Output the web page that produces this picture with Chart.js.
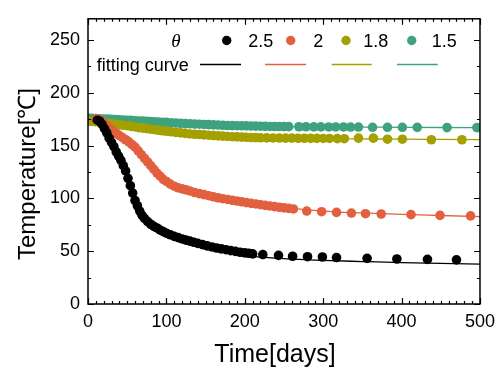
<!DOCTYPE html>
<html>
<head>
<meta charset="utf-8">
<script src="https://cdn.jsdelivr.net/npm/chart.js@4.4.1/dist/chart.umd.min.js"></script>
<style>
  html, body { margin: 0; padding: 0; background: #fff; }
</style>
</head>
<body>
<canvas id="myChart" width="502" height="369"></canvas>
<script>
// ---- data ----
const xTicks = [0, 100, 200, 300, 400, 500];
const yTicks = [0, 50, 100, 150, 200, 250];
const thetaLabels = ['2.5', '2', '1.8', '1.5'];
const colors = ['#000000', '#E2603F', '#A3A000', '#3FA27F'];

// theta = 2.5
const x25 = [12,15,18,21,24,27,30,33,36,39,42,45,48,51,54,57,60,63,66,69,72,76,80,84,88,92,96,100,105,110,115,120,125,130,135,140,146,152,158,164,170,176,182,188,194,200,205,
             210,223,243,261,280,299,317,356,394,433,470];
const y25 = [174,173,170,166,162,157,153,149,144,140,136,131,126,119,112,105,98,93,88,84,81,78,75.5,73.5,72,70,68.5,67,65.5,64,62.8,61.6,60.5,59.5,58.4,57.4,56.2,55,54,53,52.2,51.4,50.5,49.8,49,48.4,48,
             47.5,46.8,46,45.2,44.8,44.5,44,43.2,42.6,42.2,41.8];

// theta = 2
const x20 = [10,13,16,19,22,25,28,31,34,37,40,44,48,52,56,60,64,68,72,76,80,84,88,92,96,100,105,110,115,120,125,130,136,142,148,154,160,166,172,178,184,190,196,202,208,214,220,226,232,238,244,250,256,262,
             279,298,317,336,354,374,412,449,488];
const y20 = [175,175,174,172,170,168,166,164,162.5,161,159.5,157.5,155.5,153.5,151,148.5,145,141.5,138,134.5,131,127.5,124,121,118,116,113.5,111.5,110,109,108,107,105.5,104.5,103.5,102.5,101.5,100.5,99.7,99,98.2,97.5,96.8,96,95.3,94.7,94,93.4,92.8,92.2,91.6,91,90.5,90,
             88,87.4,86.7,86.1,85.5,85.2,84.6,83.9,83.4];

// theta = 1.8
const x18 = [0,5,10,15,20,25,30,35,40,45,50,55,60,65,70,75,80,85,90,95,100,106,112,118,124,130,136,142,148,154,160,166,172,178,184,190,196,202,208,214,220,228,236,244,252,260,268,276,284,292,300,308,318,327,
             345,364,382,401,438,477];
const y18 = [173,172.8,172.5,172,171.5,171,170.5,170,169.6,169.2,168.8,168.2,167.6,167,166.5,166,165.5,165,164.5,164,163.5,163,162.5,162,161.5,161,160.7,160.4,160.1,159.8,159.5,159.2,158.9,158.6,158.4,158.2,158,157.8,157.6,157.5,157.4,157.3,157.2,157.1,157,157,156.9,156.9,156.8,156.8,156.7,156.7,156.6,156.5,
             157,157,156,156,155.5,155.5];

// theta = 1.5
const x15 = [0,5,10,15,20,25,30,35,40,45,50,55,60,65,70,75,80,85,90,95,100,106,112,118,124,130,136,142,148,154,160,166,172,178,184,190,196,202,208,214,220,226,232,238,244,250,256,
             269,278,288,297,307,316,326,335,345,363,382,401,420,458,496];
const y15 = [176,175.8,175.6,175.4,175.2,175,174.8,174.6,174.4,174.2,174,173.8,173.5,173.3,173.1,172.9,172.7,172.5,172.3,172.1,171.9,171.6,171.3,171,170.8,170.6,170.4,170.2,170,169.8,169.6,169.4,169.2,169,168.9,168.8,168.7,168.6,168.5,168.4,168.3,168.2,168.1,168,168,167.9,167.9,
             167.8,167.8,167.7,167.7,167.6,167.6,167.6,167.5,167.5,167.3,167.3,167.3,167.2,167,167];

// fitting curves, sampled off the figure
const fitX = [0,20,40,60,80,100,120,140,160,180,200,250,300,350,400,450,500];
const fit25 = [175,168,139,98,75,67,61.5,57.5,53.5,49.5,46,43,41.3,40.2,39.2,38.5,37.8];
const fit20 = [176,171,159.5,148.5,131,116,109,105,101.5,98.8,96.3,91.5,88,86.2,84.8,83.8,82.8];
const fit18 = [173,171.5,169.6,167.6,165.5,163.5,162,160.5,159.5,158.6,158,157,156.6,156.3,156,155.8,155.6];
const fit15 = [176,175.2,174.4,173.5,172.7,171.9,171,170.3,169.6,169,168.6,167.9,167.7,167.5,167.3,167.1,167];

const pts = (xs, ys) => xs.map((x, i) => ({x: x, y: ys[i]}));

const seriesX = [x25, x20, x18, x15];
const seriesY = [y25, y20, y18, y15];
const fits = [fit25, fit20, fit18, fit15];

const datasets = [];
for (let i = 0; i < 4; i++) {
    datasets.push({
        label: thetaLabels[i],
        data: pts(seriesX[i], seriesY[i]),
        showLine: false,
        pointRadius: 4.8,
        pointBorderWidth: 0,
        pointBackgroundColor: colors[i],
        order: i
    });
}
for (let i = 0; i < 4; i++) {
    datasets.push({
        label: 'fit ' + thetaLabels[i],
        data: pts(fitX, fits[i]),
        showLine: true,
        pointRadius: 0,
        borderColor: colors[i],
        borderWidth: 1.3,
        cubicInterpolationMode: 'monotone',
        order: 10 + i
    });
}

// frame, inward ticks, axis titles and the legend block
const framePlugin = {
    id: 'frame',
    afterDraw(chart) {
        const c = chart.ctx;
        const a = chart.chartArea;
        const sx = chart.scales.x, sy = chart.scales.y;
        c.save();
        c.strokeStyle = '#000';
        c.lineWidth = 1.5;
        c.strokeRect(a.left, a.top, a.right - a.left, a.bottom - a.top);
        c.lineWidth = 1.2;
        c.beginPath();
        for (let v = 0; v <= 500; v += 10) {
            const px = Math.round(sx.getPixelForValue(v)) + 0.5;
            const len = (v % 100 === 0) ? 6 : 3;
            c.moveTo(px, a.bottom); c.lineTo(px, a.bottom - len);
            c.moveTo(px, a.top); c.lineTo(px, a.top + len);
        }
        for (let v = 0; v <= 270; v += 25) {
            const py = Math.round(sy.getPixelForValue(v)) + 0.5;
            const len = (v % 50 === 0) ? 6 : 3;
            c.moveTo(a.left, py); c.lineTo(a.left + len, py);
            c.moveTo(a.right, py); c.lineTo(a.right - len, py);
        }
        c.stroke();

        // axis titles
        c.fillStyle = '#000';
        c.font = '25px "Liberation Sans", Arial, sans-serif';
        c.textAlign = 'center';
        c.textBaseline = 'middle';
        c.fillText('Time[days]', 275, 355);
        c.save();
        c.translate(28, 174);
        c.rotate(-Math.PI / 2);
        c.font = '24px "Liberation Sans", Arial, sans-serif';
        c.fillText('Temperature[℃]', 0, 0);
        c.restore();

        // legend
        c.textBaseline = 'alphabetic';
        c.font = 'italic 19px "Liberation Serif", serif';
        c.fillText('θ', 176, 46.5);
        c.font = '18px "Liberation Sans", Arial, sans-serif';
        c.textAlign = 'left';
        const mx = [226.7, 290.7, 346, 411.7];
        const tx = [248.3, 313.3, 363.3, 431.7];
        const lx = [[200, 241], [265, 306], [331.7, 371.7], [397, 437.7]];
        for (let i = 0; i < 4; i++) {
            c.fillStyle = colors[i];
            c.beginPath();
            c.arc(mx[i], 40.5, 4.7, 0, Math.PI * 2);
            c.fill();
            c.fillStyle = '#000';
            c.fillText(thetaLabels[i], tx[i], 46.7);
            c.strokeStyle = colors[i];
            c.lineWidth = 1.3;
            c.beginPath();
            c.moveTo(lx[i][0], 64.5); c.lineTo(lx[i][1], 64.5);
            c.stroke();
        }
        c.fillStyle = '#000';
        c.fillText('fitting curve', 96.7, 70.5);
        c.restore();
    }
};

const ctx = document.getElementById('myChart').getContext('2d');
const myChart = new Chart(ctx, {
    type: 'scatter',
    data: { datasets: datasets },
    options: {
        responsive: false,
        animation: false,
        devicePixelRatio: 1,
        layout: { padding: { top: 13, right: 21, left: 0, bottom: 0 } },
        plugins: {
            legend: { display: false },
            tooltip: { enabled: false }
        },
        scales: {
            x: {
                type: 'linear',
                min: 0,
                max: 500,
                afterBuildTicks: s => { s.ticks = xTicks.map(v => ({value: v})); },
                afterFit: s => { s.height = 65; },
                grid: { display: false, drawTicks: false },
                border: { display: false },
                ticks: {
                    color: '#000',
                    padding: 7,
                    maxRotation: 0,
                    font: { family: '"Liberation Sans", Arial, sans-serif', size: 18 }
                }
            },
            y: {
                type: 'linear',
                min: 0,
                max: 270,
                afterBuildTicks: s => { s.ticks = yTicks.map(v => ({value: v})); },
                afterFit: s => { s.width = 88; },
                grid: { display: false, drawTicks: false },
                border: { display: false },
                ticks: {
                    color: '#000',
                    padding: 8,
                    font: { family: '"Liberation Sans", Arial, sans-serif', size: 18 }
                }
            }
        }
    },
    plugins: [framePlugin]
});
</script>
</body>
</html>
